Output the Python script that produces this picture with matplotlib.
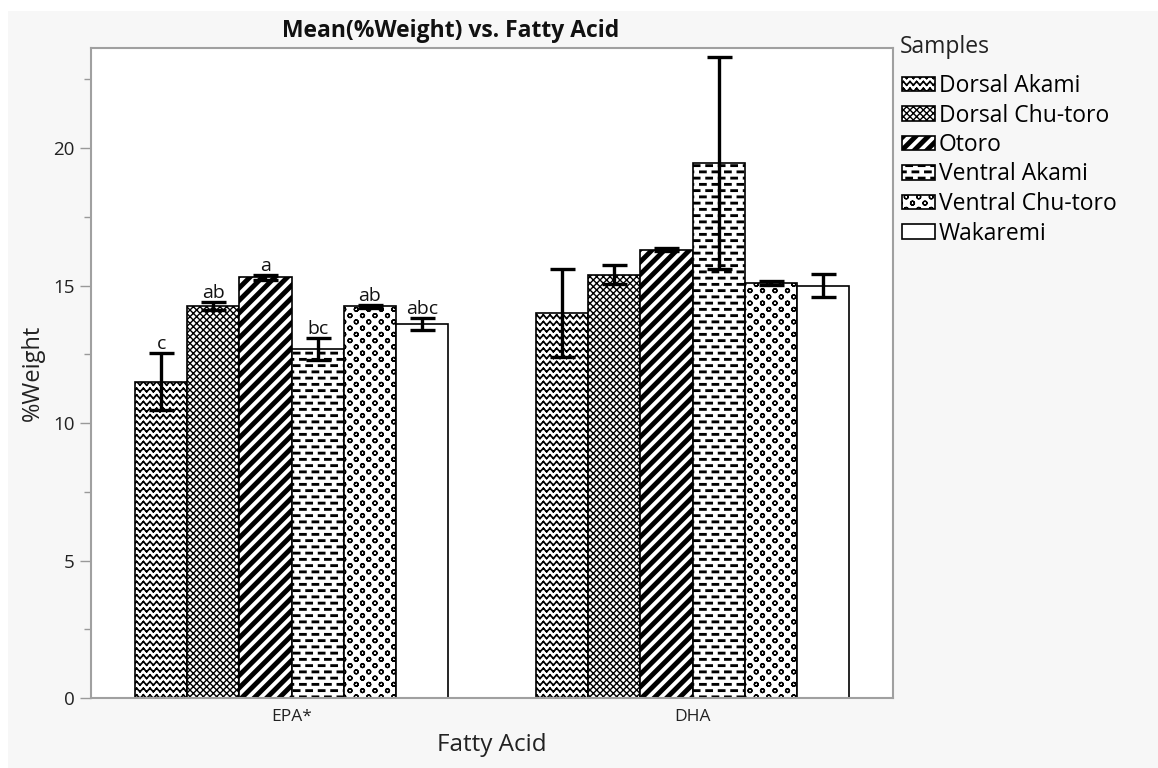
import numpy as np
import matplotlib
matplotlib.use("Agg")
import matplotlib.pyplot as plt
from matplotlib import hatch as mhatch
from matplotlib.path import Path
from matplotlib.patches import Patch, Rectangle

acids = ["EPA*", "DHA"]
samples = ["Dorsal Akami", "Dorsal Chu-toro", "Otoro", "Ventral Akami",
           "Ventral Chu-toro", "Wakaremi"]
# mean %weight per sample, one list per fatty acid
epa_mean = [11.5, 14.25, 15.3, 12.7, 14.25, 13.6]
dha_mean = [14.0, 15.4, 16.3, 19.45, 15.1, 15.0]
# error bar half-widths
epa_err = [1.03, 0.15, 0.08, 0.4, 0.05, 0.22]
dha_err = [1.6, 0.35, 0.05, 3.85, 0.08, 0.42]
epa_letters = ["c", "ab", "a", "bc", "ab", "abc"]

M, L, C = Path.MOVETO, Path.LINETO, Path.CLOSEPOLY


def seg(x0, y0, x1, y1):
    return [[x0, y0], [x1, y1]], [M, L]


def poly(pts):
    return list(pts) + [pts[0]], [M] + [L] * (len(pts) - 1) + [C]


# hatch tiles are one inch square; every shape here is in tile units
class TileHatch(mhatch.HatchPatternBase):
    key = None

    def __init__(self, hatch, density):
        self.parts = self.build() if (hatch and self.key in hatch) else []
        self.num_vertices = sum(len(v) for v, c in self.parts)

    def build(self):
        return []

    def set_vertices_and_codes(self, vertices, codes):
        i = 0
        for v, c in self.parts:
            n = len(v)
            vertices[i:i + n] = v
            codes[i:i + n] = c
            i += n


class ZigZag(TileHatch):
    key = "*"

    def build(self):
        out, n, a = [], 15, 0.034
        for k in range(n):
            y = (k + 0.5) / n
            for i in range(n):
                x0, xm, x1 = i / n, (i + 0.5) / n, (i + 1) / n
                out.append(seg(x0, y - a / 2, xm, y + a / 2))
                out.append(seg(xm, y + a / 2, x1, y - a / 2))
        return out


class Diamonds(TileHatch):
    key = "x"

    def build(self):
        out, n = [], 15
        for k in range(-n, n + 1):
            c = k / n
            out.append(seg(c, 0, c + 1, 1))
            out.append(seg(c, 1, c + 1, 0))
        return out


class Stripes(TileHatch):
    key = "/"

    def build(self):
        out, n, w = [], 8, 0.042
        for k in range(-n, n + 1):
            c = k / n
            out.append(poly([(c, 0), (c + w, 0), (c + w + 1, 1), (c + 1, 1)]))
        return out


class Bricks(TileHatch):
    key = "-"

    def build(self):
        out, rows, per, ln, h = [], 16, 8, 0.058, 0.009
        for k in range(rows):
            y = (k + 0.5) / rows
            off = 0.5 / per if k % 2 else 0.0
            for j in range(-1, per + 1):
                x = j / per + off
                out.append(poly([(x, y - h / 2), (x + ln, y - h / 2),
                                 (x + ln, y + h / 2), (x, y + h / 2)]))
        return out


class Rings(TileHatch):
    key = "o"

    def build(self):
        out, rows, per, r, m = [], 16, 8, 0.019, 12
        t = np.linspace(0, 2 * np.pi, m + 1)
        for k in range(rows):
            y = (k + 0.5) / rows
            off = 0.5 / per if k % 2 else 0.0
            for j in range(-1, per + 1):
                cx = (j + 0.5) / per + off
                for a0, a1 in zip(t[:-1], t[1:]):
                    out.append(seg(cx + r * np.cos(a0), y + r * np.sin(a0),
                                   cx + r * np.cos(a1), y + r * np.sin(a1)))
        return out


mhatch._hatch_types = [ZigZag, Diamonds, Stripes, Bricks, Rings]
hatches = ["*", "x", "/", "-", "o", None]
hatch_lw = [1.25, 1.0, 1.4, 1.4, 0.95, 1.0]

plt.rcParams["font.family"] = ["Open Sans", "DejaVu Sans"]
plt.rcParams["hatch.linewidth"] = 1.2
plt.rcParams["hatch.color"] = "black"


def set_hlw(patch, lw):
    if hasattr(patch, "set_hatch_linewidth"):
        patch.set_hatch_linewidth(lw)


fig = plt.figure(figsize=(11.58, 7.68), dpi=100, facecolor="white")
fig.patches.append(Rectangle((8 / 1158, 0), 1, 757 / 768, transform=fig.transFigure,
                             facecolor="#f7f7f7", edgecolor="none", zorder=-10))
ax = fig.add_axes([91 / 1158, 70 / 768, 802 / 1158, 650 / 768])
ax.set_facecolor("white")

x = np.arange(len(acids))
width = 0.13
for i, name in enumerate(samples):
    pos = x + (i - 2.5) * width
    vals = [epa_mean[i], dha_mean[i]]
    errs = [epa_err[i], dha_err[i]]
    bars = ax.bar(pos, vals, width, facecolor="white", edgecolor="black",
                  linewidth=1.2, hatch=hatches[i], zorder=2)
    for b in bars:
        set_hlw(b, hatch_lw[i])
    ax.errorbar(pos, vals, yerr=errs, fmt="none", ecolor="black",
                elinewidth=2.4, capsize=9, capthick=2.4, zorder=3)
    ax.annotate(epa_letters[i], (pos[0], epa_mean[i] + epa_err[i]),
                xytext=(0, 3), textcoords="offset points", ha="center",
                va="baseline", fontsize=14, color="#111111")

ax.set_xlim(-0.5, 1.5)
ax.set_ylim(0, 23.64)
ax.set_xticks(x, acids)
ax.set_yticks([0, 5, 10, 15, 20])
ax.set_yticks(np.arange(2.5, 23, 5), minor=True)
ax.tick_params(axis="x", length=0, labelsize=12.5, pad=8, colors="#222222")
ax.tick_params(axis="y", which="major", length=8, width=1, color="#999999",
               labelsize=13.5, labelcolor="#222222", pad=4)
ax.tick_params(axis="y", which="minor", length=5, width=1, color="#999999")
for s in ax.spines.values():
    s.set_color("#a0a0a0")
    s.set_linewidth(1.5)

fig.text(451 / 1158, 1 - 31 / 768, "Mean(%Weight) vs. Fatty Acid",
         fontsize=16.5, fontweight="bold", ha="center", va="center",
         color="#111111")
ax.set_ylabel("%Weight", fontsize=17, color="#222222")
ax.yaxis.set_label_coords(-0.058, 0.5)
ax.set_xlabel("Fatty Acid", fontsize=17.5, color="#222222", labelpad=6)

fig.text(900 / 1158, 1 - 47 / 768, "Samples", fontsize=16.5, color="#222222",
         ha="left", va="center")
handles = [Patch(facecolor="white", edgecolor="black", linewidth=1.2, hatch=h)
           for h in hatches]
for h, lw in zip(handles, hatch_lw):
    set_hlw(h, lw)
leg = fig.legend(handles, samples, loc="upper left",
                 bbox_to_anchor=(902 / 1158, 1 - 74 / 768), frameon=False,
                 fontsize=16.5, handlelength=1.45, handleheight=0.6,
                 handletextpad=0.15, labelspacing=0.24, borderaxespad=0,
                 borderpad=0)
for h, lw in zip(leg.get_patches(), hatch_lw):
    set_hlw(h, lw)

fig.savefig("out.png", dpi=100, facecolor=fig.get_facecolor())
